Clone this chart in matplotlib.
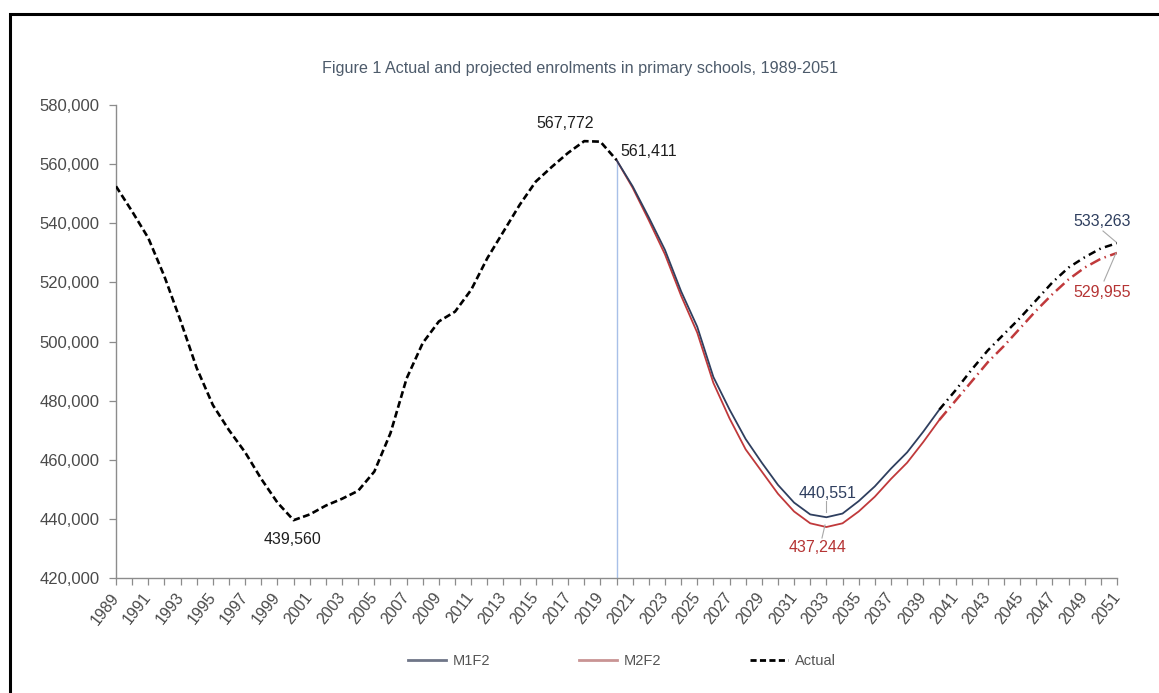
import matplotlib
matplotlib.use("Agg")
import matplotlib.pyplot as plt
from matplotlib.lines import Line2D
from matplotlib.patches import Rectangle
from matplotlib.ticker import FuncFormatter, MultipleLocator

plt.rcParams['font.family'] = ['Liberation Sans', 'DejaVu Sans']

# ---------------- data ----------------
years_actual = list(range(1989, 2021))
actual = [552500, 544000, 535000, 522000, 507000, 491000, 478500, 470000,
          462500, 453500, 445500, 439560, 441500, 444500, 446800, 449500,
          456000, 469000, 487500, 499500, 506800, 510100, 517500, 528200,
          537200, 546200, 554100, 559100, 563800, 567772, 567600, 561411]

years_proj = list(range(2020, 2052))
m1f2 = [561411, 552500, 542000, 531000, 517000, 505000, 488000, 477000,
        467000, 459000, 451500, 445500, 441500, 440551, 441800, 446000,
        451000, 457000, 462500, 469500, 477000, 483500, 490500, 497000,
        502500, 508000, 514000, 520000, 525000, 528500, 531500, 533263]
m2f2 = [561411, 552000, 541000, 529500, 515500, 503000, 486000, 474000,
        463500, 456000, 448500, 442500, 438500, 437244, 438500, 442500,
        447500, 453500, 459000, 466000, 473500, 480000, 486500, 493000,
        498500, 504500, 510500, 516000, 521000, 525000, 528000, 529955]
split_year = 2040  # projections drawn dashed from here on

series_names = ["M1F2", "M2F2", "Actual"]
title = "Figure 1 Actual and projected enrolments in primary schools, 1989-2051"

# ---------------- figure ----------------
W, H = 1159, 693
fig = plt.figure(figsize=(W / 100, H / 100), dpi=100)
fig.patch.set_facecolor("white")

# outer black frame (cut off at right and bottom)
fig.patches.append(Rectangle((10 / W, -0.2), 1.2, 1.2 - 14 / H,
                             transform=fig.transFigure, fill=False,
                             edgecolor="black", linewidth=2.2))

ax = fig.add_axes([116 / W, 1 - 578 / H, (1117 - 116) / W, (578 - 105) / H])
ax.set_xlim(1989, 2051)
ax.set_ylim(420000, 580000)

blue = "#2f3f5f"
red = "#c0393b"

# vertical divider at 2020
ax.vlines(2020, 420000, actual[-1], colors="#a8c0e8", linewidth=1.0, zorder=1)

si = years_proj.index(split_year)
# projections
ax.plot(years_proj[:si + 1], m2f2[:si + 1], color=red, lw=1.3, zorder=3)
ax.plot(years_proj[:si + 1], m1f2[:si + 1], color=blue, lw=1.3, zorder=3)
ax.plot(years_proj[si:], m2f2[si:], color=red, lw=1.8,
        linestyle=(0, (4.5, 1.8, 0.6, 1.8)), zorder=3)
ax.plot(years_proj[si:], m1f2[si:], color="black", lw=1.8,
        linestyle=(0, (3, 1.8, 0.6, 1.8)), zorder=3)
# actual
ax.plot(years_actual, actual, color="black", lw=1.9,
        linestyle=(0, (2.6, 1.3)), zorder=4)

# axes styling
for s in ["top", "right"]:
    ax.spines[s].set_visible(False)
for s in ["left", "bottom"]:
    ax.spines[s].set_color("#8c8c8c")
    ax.spines[s].set_linewidth(1.0)

ax.yaxis.set_major_locator(MultipleLocator(20000))
ax.yaxis.set_major_formatter(FuncFormatter(lambda v, p: f"{int(v):,}"))
ax.tick_params(axis="y", direction="out", length=5, width=0.9,
               color="#8c8c8c", labelsize=12, labelcolor="#4a4a4a", pad=7)

all_years = list(range(1989, 2052))
ax.set_xticks(all_years)
ax.set_xticklabels([str(y) if (y - 1989) % 2 == 0 else "" for y in all_years],
                   rotation=52, ha="right", va="center", rotation_mode="anchor")
ax.tick_params(axis="x", direction="out", length=5, width=0.9,
               color="#8c8c8c", labelsize=11.5, labelcolor="#4a4a4a", pad=7)

# title
fig.text(580 / W, 1 - 68 / H, title, ha="center", va="center",
         fontsize=11.6, color="#4d5b6b")

def put(text, px, py, color, ha="center"):
    fig.text(px / W, 1 - py / H, text, color=color, fontsize=11.5,
             ha=ha, va="center")

put(f"{max(actual):,}", 565, 124, "#1e1e1e")
put(f"{actual[-1]:,}", 620, 151, "#1e1e1e", ha="left")
put(f"{min(actual):,}", 293, 540, "#1e1e1e")
put(f"{min(m1f2):,}", 828, 494, "#2f3f5f")
put(f"{min(m2f2):,}", 818, 547, "#b53434")
put(f"{m1f2[-1]:,}", 1102, 222, "#2f3f5f")
put(f"{m2f2[-1]:,}", 1102, 293, "#b53434")

# leader lines (figure pixel coords)
def leader(x0, y0, x1, y1):
    fig.add_artist(Line2D([x0 / W, x1 / W], [1 - y0 / H, 1 - y1 / H],
                          transform=fig.transFigure, color="#a8a8a8", lw=0.8))

leader(826, 501, 826, 512)
leader(822, 538, 825, 525)
leader(1103, 231, 1116, 242)
leader(1104, 281, 1116, 253)

# legend
handles = [Line2D([], [], color="#6f7688", lw=2),
           Line2D([], [], color="#c99494", lw=2),
           Line2D([], [], color="black", lw=2, linestyle=(0, (2.2, 1.2)))]
leg = fig.legend(handles, series_names, loc="center", ncol=3,
                 bbox_to_anchor=(622 / W, 1 - 661 / H), frameon=False,
                 fontsize=10.5, handlelength=2.6, handletextpad=0.45,
                 columnspacing=6.1)
for t in leg.get_texts():
    t.set_color("#555555")

fig.savefig("out.png", dpi=100)
